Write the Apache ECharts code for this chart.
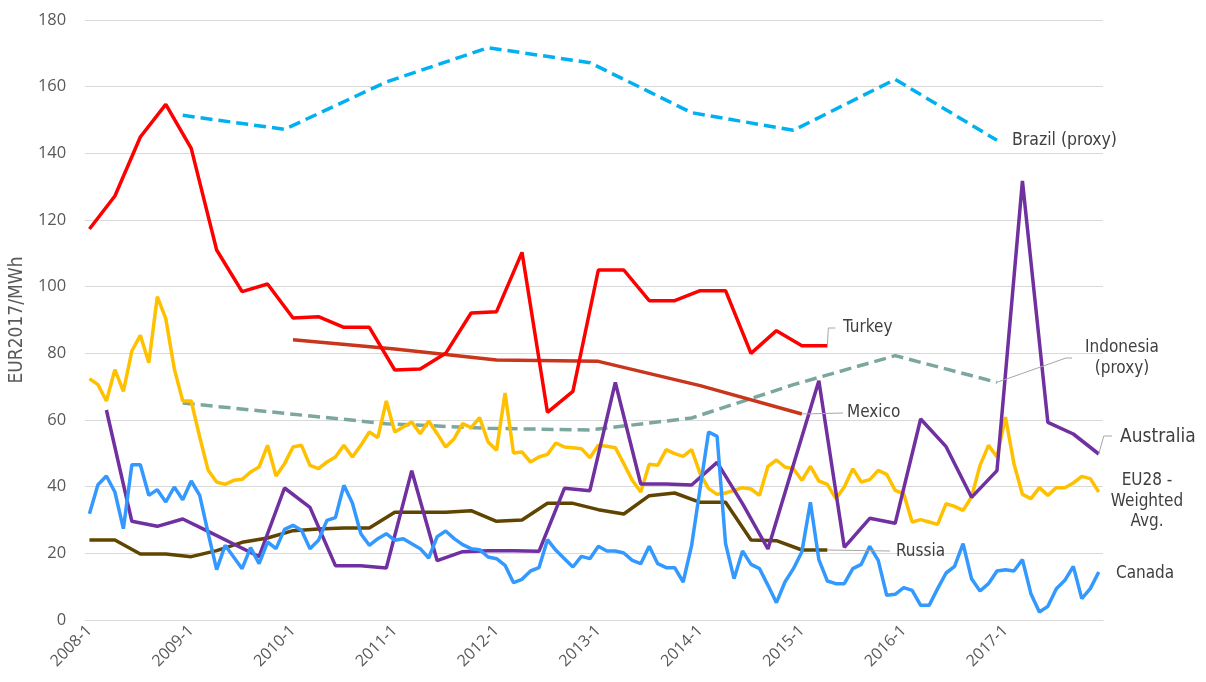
<!DOCTYPE html>
<html>
<head>
<meta charset="utf-8">
<script src="https://cdn.jsdelivr.net/npm/echarts@6/dist/echarts.min.js"></script>
<style>
html, body {margin: 0; padding: 0; background: #fff;}
#main {width: 1206px; height: 682px;}
</style>
</head>
<body>
<div id="main"></div>
<script>
const years = [2008, 2009, 2010, 2011, 2012, 2013, 2014, 2015, 2016, 2017];
const categories = [];
years.forEach(y => { for (let m = 1; m <= 12; m++) categories.push(y + '-' + m); });

// quarterly, from 2008-1
const turkey = [117.3, 127.2, 144.9, 154.7, 141.5, 111.0, 98.5, 100.8, 90.6, 91.0, 87.8, 87.8, 75.0, 75.3, 80.0,
	92.1, 92.5, 110.3, 62.3, 68.6, 105.0, 105.0, 95.8, 95.8, 98.8, 98.8, 80.0, 86.8, 82.3, 82.3];
const russia = [24.0, 24.0, 19.8, 19.8, 19.0, 20.8, 23.3, 24.6, 26.8, 27.3, 27.6, 27.6, 32.3, 32.3, 32.3,
	32.8, 29.6, 30.0, 35.0, 35.0, 33.1, 31.8, 37.3, 38.1, 35.3, 35.3, 24.0, 23.8, 21.0, 21.0];
// quarterly, from 2008-3
const australia = [63.0, 29.6, 28.1, 30.3, 26.6, 22.8, 19.0, 39.6, 33.8, 16.3, 16.3, 15.6, 44.8, 17.8, 20.5,
	20.8, 20.8, 20.6, 39.5, 38.8, 71.3, 40.8, 40.8, 40.5, 47.3, 34.9, 21.3, 46.6, 71.8, 21.8, 30.5, 29.0,
	60.3, 52.0, 36.8, 44.8, 131.7, 59.3, 55.8, 49.8];
// yearly, december 2008..2016
const brazil = [151.4, 147.2, 161.4, 171.7, 167.2, 152.2, 146.9, 162.2, 143.9];
const indonesia = [65.1, 62.0, 58.9, 57.5, 57.0, 60.6, 70.6, 79.3, 71.3];
// yearly, january 2010..2015
const mexico = [84.1, 81.3, 78.0, 77.6, 70.3, 61.8];
// monthly
const eu28 = [72.4, 70.6, 65.7, 75.1, 68.6, 80.7, 85.4, 77.2, 97.0, 90.4, 75.4, 65.7,
	65.7, 54.9, 44.9, 41.4, 40.7, 41.9, 42.2, 44.4, 45.9, 52.4, 43.2, 46.9,
	51.9, 52.4, 46.4, 45.4, 47.4, 48.9, 52.4, 48.9, 52.4, 56.4, 54.7, 65.7,
	56.4, 57.9, 59.4, 55.9, 59.7, 55.9, 51.9, 54.4, 58.9, 57.7, 60.7, 53.4,
	50.9, 68.1, 50.1, 50.4, 47.4, 48.9, 49.7, 53.1, 51.9, 51.7, 51.4, 48.7,
	52.4, 52.1, 51.7, 46.9, 41.9, 38.4, 46.7, 46.4, 51.1, 49.9, 49.1, 51.1,
	43.9, 39.4, 37.7, 38.1, 38.9, 39.7, 39.3, 37.4, 46.1, 48.0, 45.9, 45.4,
	41.9, 46.1, 41.7, 40.7, 36.4, 39.9, 45.4, 41.4, 42.1, 44.9, 43.7, 38.9,
	37.9, 29.4, 30.1, 29.4, 28.7, 34.9, 34.1, 32.9, 36.9, 46.4, 52.4, 48.9,
	60.9, 46.9, 37.7, 36.4, 39.7, 37.4, 39.7, 39.7, 41.1, 43.1, 42.4, 38.4];
const canada = [31.9, 40.6, 43.2, 38.4, 27.4, 46.6, 46.6, 37.4, 39.1, 35.4, 39.9, 36.1,
	41.7, 37.4, 26.0, 15.1, 22.4, 18.9, 15.4, 21.7, 16.9, 23.4, 21.4, 27.2,
	28.4, 26.9, 21.4, 23.9, 29.9, 30.7, 40.4, 35.1, 25.9, 22.4, 24.4, 25.9,
	23.9, 24.4, 22.9, 21.4, 18.6, 25.0, 26.7, 24.4, 22.6, 21.4, 21.1, 18.9,
	18.4, 16.4, 11.2, 12.2, 14.7, 15.7, 24.1, 20.9, 18.4, 15.9, 19.1, 18.4,
	22.1, 20.7, 20.7, 20.1, 17.9, 16.9, 22.1, 16.9, 15.7, 15.7, 11.4, 22.4,
	39.5, 56.4, 55.1, 22.9, 12.4, 20.7, 16.7, 15.4, 10.4, 5.2, 11.4, 15.4,
	20.5, 35.3, 18.1, 11.7, 10.9, 10.9, 15.4, 16.7, 22.1, 17.9, 7.4, 7.7,
	9.7, 8.9, 4.4, 4.4, 9.4, 14.1, 16.1, 22.9, 12.4, 8.7, 10.9, 14.7,
	15.1, 14.7, 18.1, 7.9, 2.4, 4.1, 9.4, 11.9, 16.1, 6.4, 9.4, 14.4];

function spread(values, start, step) {
	const out = new Array(categories.length).fill(null);
	values.forEach((v, k) => { out[start + k * step] = v; });
	return out;
}

const axisFont = "'Open Sans', sans-serif";
const noteFont = "'DejaVu Sans Condensed', 'Liberation Sans', sans-serif";

function line(name, data, color, extra) {
	return Object.assign({
		name: name,
		type: 'line',
		data: data,
		showSymbol: false,
		symbol: 'none',
		connectNulls: true,
		lineStyle: {color: color, width: 3.5},
		itemStyle: {color: color},
		z: 2
	}, extra || {});
}

let myChart = echarts.init(document.getElementById('main'));
myChart.setOption({
	animation: false,
	grid: {left: 82, right: 103, top: 20, bottom: 62},
	xAxis: {
		type: 'category',
		data: categories,
		boundaryGap: true,
		axisLine: {lineStyle: {color: '#D9D9D9', width: 1}},
		axisTick: {interval: i => i % 6 === 0, length: 5, lineStyle: {color: '#D9D9D9'}},
		axisLabel: {
			interval: i => i % 12 === 0,
			rotate: 45,
			margin: 8,
			color: '#595959',
			fontSize: 16,
			fontFamily: axisFont
		}
	},
	yAxis: {
		type: 'value',
		min: 0,
		max: 180,
		interval: 20,
		name: 'EUR2017/MWh',
		nameLocation: 'middle',
		nameGap: 58,
		nameTextStyle: {color: '#595959', fontSize: 19, fontFamily: noteFont},
		axisLine: {show: false},
		axisTick: {show: false},
		axisLabel: {color: '#595959', fontSize: 16.5, margin: 19, fontFamily: axisFont},
		splitLine: {lineStyle: {color: '#D9D9D9', width: 1}}
	},
	series: [
		line('Brazil (proxy)', spread(brazil, 11, 12), '#00B0F0', {lineStyle: {color: '#00B0F0', width: 3.5, type: [12, 6]}}),
		line('Indonesia (proxy)', spread(indonesia, 11, 12), '#7BA79F', {lineStyle: {color: '#7BA79F', width: 3.5, type: [12, 6]}}),
		line('Mexico', spread(mexico, 24, 12), '#C8361C'),
		line('Turkey', spread(turkey, 0, 3), '#FF0000'),
		line('Russia', spread(russia, 0, 3), '#5F4500'),
		line('EU28 - Weighted Avg.', eu28, '#FFC000'),
		line('Australia', spread(australia, 2, 3), '#7030A0'),
		line('Canada', canada, '#3399FF')
	]
});

const px = (i, v) => myChart.convertToPixel({gridIndex: 0}, [i, v]);
const tu = px(87, turkey[turkey.length - 1]);
const mx = px(84, mexico[mexico.length - 1]);
const id = px(107, indonesia[indonesia.length - 1]);
const ru = px(87, russia[russia.length - 1]);
const au = px(119, australia[australia.length - 1]);

function leader(points) {
	return {type: 'polyline', shape: {points: points}, style: {stroke: '#A6A6A6', lineWidth: 1, fill: null}, z: 10};
}
function note(text, x, y, size, align) {
	return {
		type: 'text',
		z: 10,
		style: {
			text: text, x: x, y: y, fill: '#404040',
			font: size + 'px ' + noteFont,
			textAlign: align || 'left', verticalAlign: 'middle', lineHeight: 20.5
		}
	};
}

myChart.setOption({
	graphic: [
		leader([tu, [tu[0] + 1, 328], [tu[0] + 8, 328]]),
		leader([mx, [843, mx[1] - 1]]),
		leader([id, [1066, 358], [1072, 358]]),
		leader([ru, [890, 551]]),
		leader([au, [au[0] + 5, 436], [1112, 436]]),
		note('Brazil (proxy)', 1012, 140, 17.5),
		note('Turkey', 843, 328, 17),
		note('Indonesia\n(proxy)', 1122, 358, 17, 'center'),
		note('Mexico', 847, 413, 17),
		note('Australia', 1120, 437, 19),
		note('EU28 -\nWeighted\nAvg.', 1147, 501.5, 17, 'center'),
		note('Russia', 896, 552, 17),
		note('Canada', 1116, 574, 17)
	]
});
</script>
</body>
</html>
